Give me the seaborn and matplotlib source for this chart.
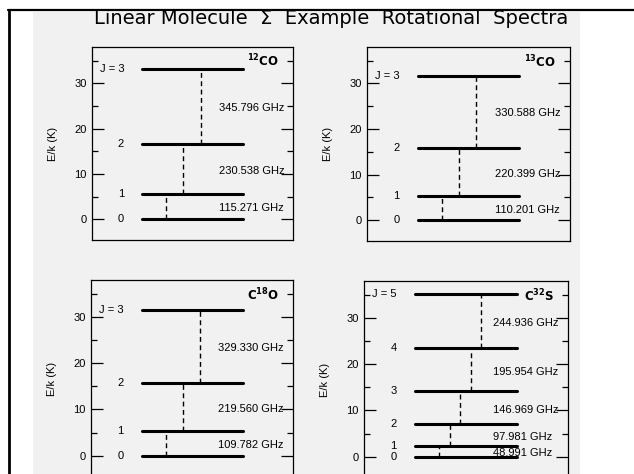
import numpy as np
import pandas as pd
import matplotlib
matplotlib.use("Agg")
import matplotlib.pyplot as plt
from matplotlib.lines import Line2D
from matplotlib.patches import Rectangle
from matplotlib.ticker import MultipleLocator
import seaborn as sns

# energy levels E/k (K) and transition frequencies (GHz) for each molecule
molecules = [r"$\mathbf{^{12}CO}$", r"$\mathbf{^{13}CO}$", r"$\mathbf{C^{18}O}$", r"$\mathbf{C^{32}S}$"]
co12_levels = [0.0, 5.53, 16.60, 33.19]
co12_freqs = ["115.271", "230.538", "345.796"]
co13_levels = [0.0, 5.29, 15.87, 31.73]
co13_freqs = ["110.201", "220.399", "330.588"]
c18o_levels = [0.0, 5.27, 15.81, 31.61]
c18o_freqs = ["109.782", "219.560", "329.330"]
cs_levels = [0.0, 2.35, 7.05, 14.11, 23.51, 35.27]
cs_freqs = ["48.991", "97.981", "146.969", "195.954", "244.936"]

y_ticks = [0, 10, 20, 30]

sns.set_style("ticks")
plt.rcParams['font.family'] = ['Liberation Sans', 'DejaVu Sans']
plt.rcParams.update({"text.color": "black", "axes.labelcolor": "black",
                     "xtick.color": "black", "ytick.color": "black"})

W, H = 634, 474
fig = plt.figure(figsize=(W / 100, H / 100), dpi=100)
fig.patch.set_facecolor("white")

# scanned-page background and slide frame
fig.add_artist(Rectangle((33 / W, 0), 547 / W, 462 / H, transform=fig.transFigure,
                         facecolor="#f1f1f1", edgecolor="none", zorder=-10))
fig.add_artist(Line2D([8 / W, 1], [1 - 10 / H, 1 - 10 / H], transform=fig.transFigure,
                      color="black", lw=1.6))
fig.add_artist(Line2D([9 / W, 9 / W], [0, 1 - 10 / H], transform=fig.transFigure,
                      color="black", lw=2.0))

fig.text(331 / W, 1 - 18 / H, "Linear Molecule  \u03a3  Example  Rotational  Spectra",
         ha="center", va="center", fontsize=14, family=["DejaVu Sans"])

panels = [
    (co12_levels, co12_freqs, (92, 47, 293, 240), 0.085),
    (co13_levels, co13_freqs, (367, 47, 570, 241), 0.083),
    (c18o_levels, c18o_freqs, (91, 280, 293, 477), 0.085),
    (cs_levels, cs_freqs, (364, 281, 568, 478), 0.051),
]

for (levels, freqs, (x0, y0, x1, y1), step), name in zip(panels, molecules):
    ax = fig.add_axes([x0 / W, 1 - y1 / H, (x1 - x0) / W, (y1 - y0) / H])
    ax.patch.set_alpha(0)

    # energy levels as horizontal bars
    df = pd.DataFrame({
        "J": np.repeat(np.arange(len(levels)), 2),
        "x": np.tile([0.25, 0.75], len(levels)),
        "E": np.repeat(levels, 2),
    })
    sns.lineplot(data=df, x="x", y="E", units="J", estimator=None,
                 color="black", lw=2.2, ax=ax)

    # transitions as dashed verticals
    for k in range(len(levels) - 1):
        xs = 0.37 + k * step
        ax.plot([xs, xs], [levels[k], levels[k + 1]], color="black",
                lw=1.0, ls=(0, (3.5, 2.5)))
        ax.text(0.63, (levels[k] + levels[k + 1]) / 2 - 0.4, f"{freqs[k]} GHz",
                ha="left", va="center", fontsize=8)

    for j, e in enumerate(levels):
        lab = f"J = {j}" if j == len(levels) - 1 else str(j)
        ax.text(0.16, e, lab, ha="right", va="center", fontsize=8)

    ax.text(0.93, 34.8, name, ha="right", va="center", fontsize=8.5)

    ax.set_xlim(0, 1)
    ax.set_ylim(-4.6, 38)
    ax.set_yticks(y_ticks)
    ax.yaxis.set_minor_locator(MultipleLocator(5))
    ax.set_xticks([])
    ax.set_xlabel("")
    ax.set_ylabel("E/k (K)", fontsize=8)
    ax.yaxis.set_label_coords(-34 / (x1 - x0), 0.5)
    ax.tick_params(axis="y", which="major", direction="in", length=8.5, width=0.9,
                   left=True, right=True, labelsize=8, pad=4)
    ax.tick_params(axis="y", which="minor", direction="in", length=4.5, width=0.9,
                   left=True, right=True)
    for s in ax.spines.values():
        s.set_visible(True)
        s.set_linewidth(0.9)
        s.set_color("black")

fig.savefig("out.png", dpi=100)
